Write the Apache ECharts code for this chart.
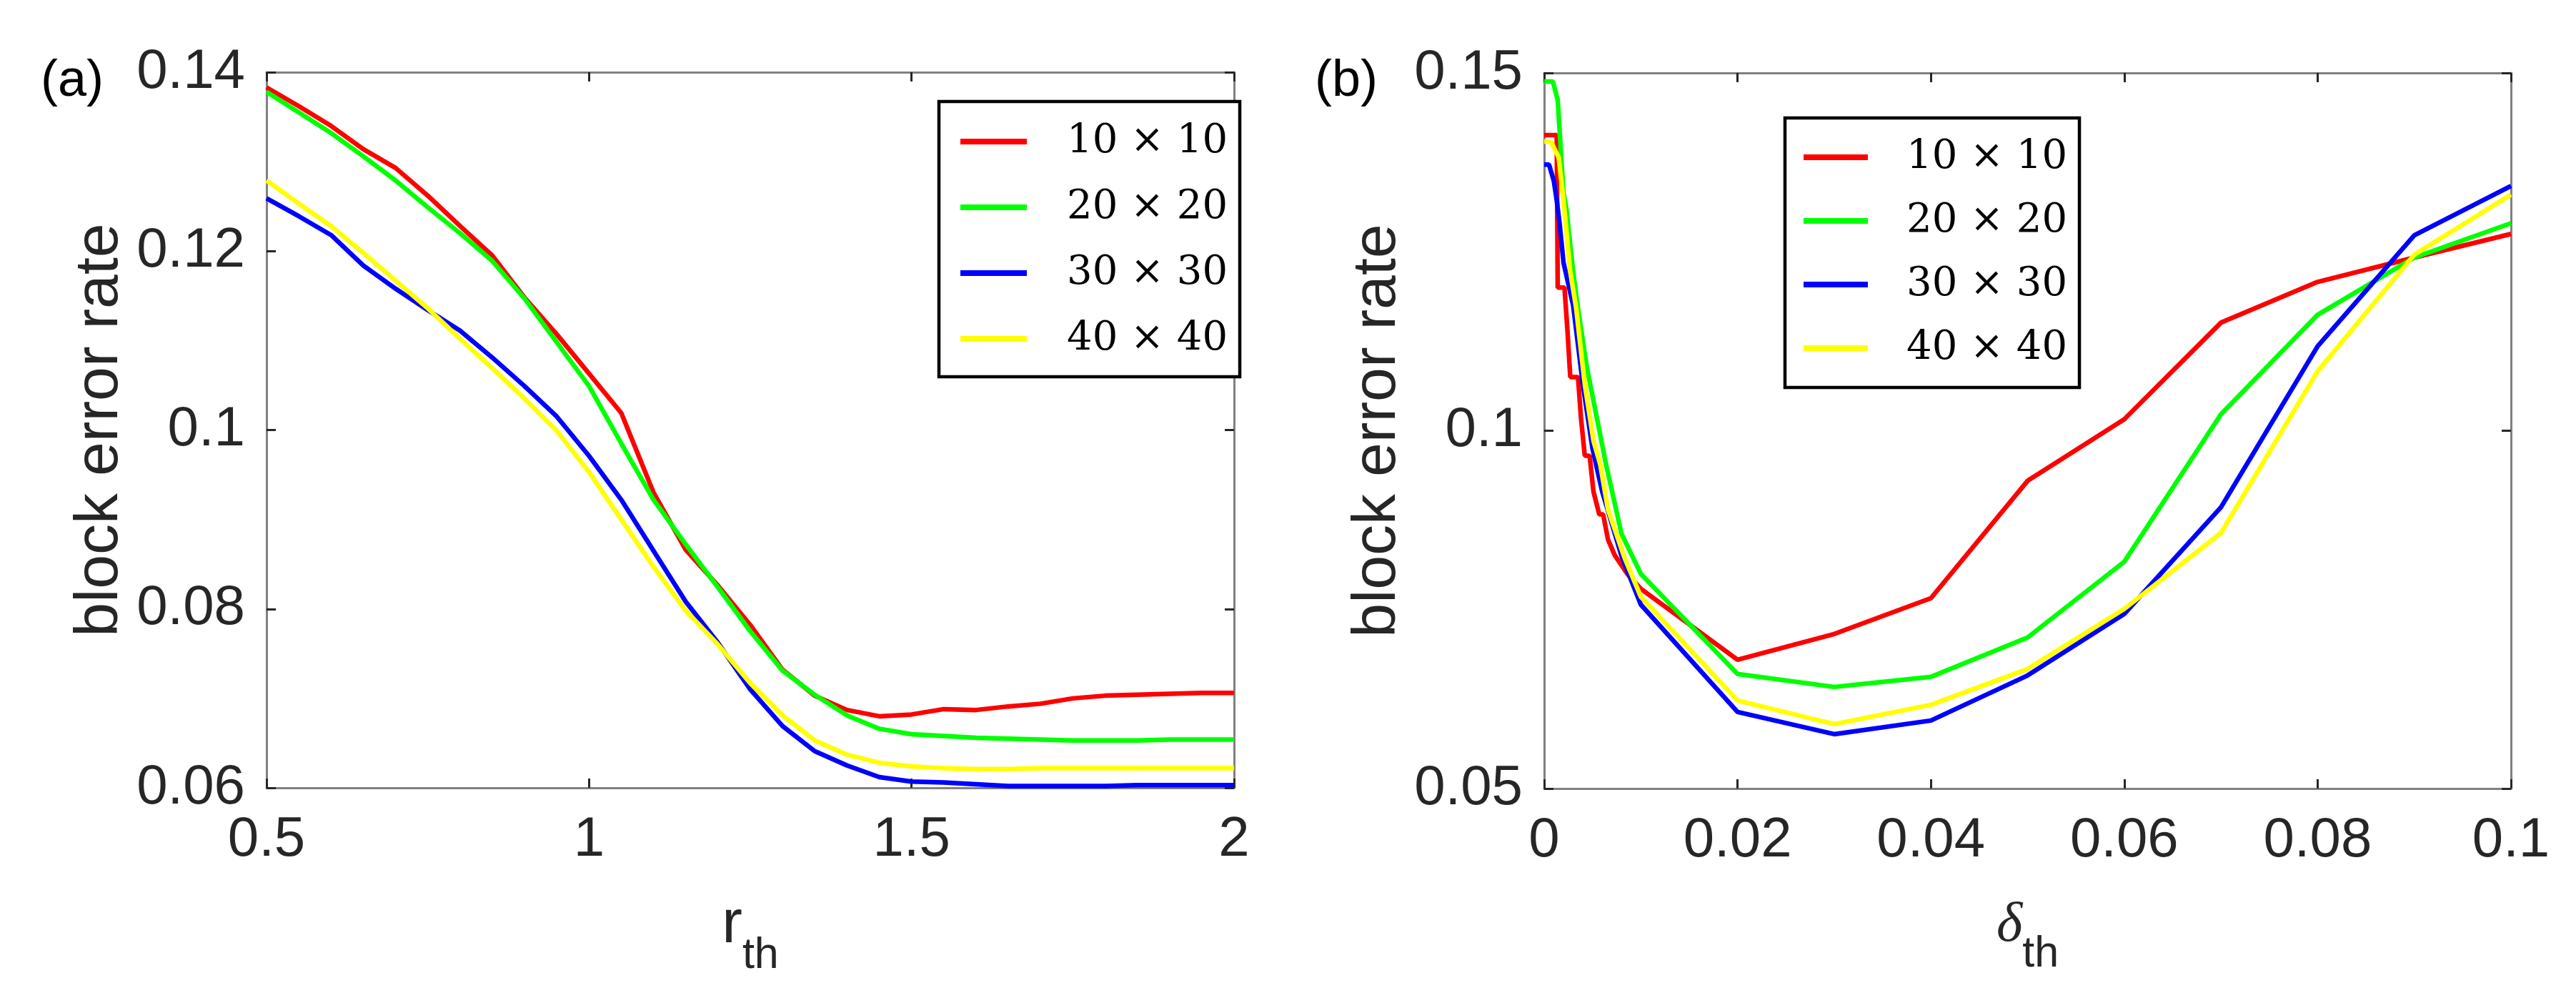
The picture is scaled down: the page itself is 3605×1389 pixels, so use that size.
<!DOCTYPE html>
<html>
<head>
<meta charset="utf-8">
<script src="https://cdn.jsdelivr.net/npm/echarts@6.0.0/dist/echarts.min.js"></script>
<style>
  html, body { margin: 0; padding: 0; background: #fff; }
  #chart { width: 3605px; height: 1389px; }
</style>
</head>
<body>
<div id="chart"></div>
<script>
// series names / colours
const sizes = ['10 × 10', '20 × 20', '30 × 30', '40 × 40'];
const colors = ['#ff0000', '#00ff00', '#0000ff', '#ffff00'];

// panel (a): block error rate vs r_th
const rTh = [0.5, 0.55, 0.6, 0.65, 0.7, 0.75, 0.8, 0.85, 0.9, 0.95, 1.0,
  1.05, 1.1, 1.15, 1.2, 1.25, 1.3, 1.35, 1.4, 1.45, 1.5,
  1.55, 1.6, 1.65, 1.7, 1.75, 1.8, 1.85, 1.9, 1.95, 2.0];
const redA = [0.1383, 0.1362, 0.1340, 0.1314, 0.1293, 0.1262, 0.1228, 0.1195, 0.1148, 0.1107, 0.1063,
  0.1019, 0.0930, 0.0866, 0.0826, 0.0782, 0.0732, 0.0703, 0.0687, 0.0680, 0.0682,
  0.0688, 0.0687, 0.0691, 0.0694, 0.0700, 0.0703, 0.0704, 0.0705, 0.0706, 0.0706];
const greenA = [0.1378, 0.1355, 0.1332, 0.1306, 0.1279, 0.1249, 0.1220, 0.1189, 0.1147, 0.1098, 0.1049,
  0.0985, 0.0922, 0.0872, 0.0824, 0.0775, 0.0731, 0.0704, 0.0681, 0.0666, 0.0660,
  0.0658, 0.0656, 0.0655, 0.0654, 0.0653, 0.0653, 0.0653, 0.0654, 0.0654, 0.0654];
const blueA = [0.1259, 0.1239, 0.1218, 0.1184, 0.1158, 0.1134, 0.1111, 0.1081, 0.1049, 0.1015, 0.0971,
  0.0922, 0.0865, 0.0808, 0.0762, 0.0710, 0.0669, 0.0641, 0.0625, 0.0612, 0.0607,
  0.0606, 0.0604, 0.0602, 0.0602, 0.0602, 0.0602, 0.0603, 0.0603, 0.0603, 0.0603];
const yellowA = [0.1279, 0.1253, 0.1228, 0.1198, 0.1167, 0.1136, 0.1102, 0.1069, 0.1035, 0.0999, 0.0953,
  0.0900, 0.0847, 0.0798, 0.0760, 0.0717, 0.0681, 0.0653, 0.0637, 0.0628, 0.0624,
  0.0622, 0.0621, 0.0621, 0.0622, 0.0622, 0.0622, 0.0622, 0.0622, 0.0622, 0.0622];

// panel (b): block error rate vs delta_th (dense points near 0)
const deltaRed = [0, 0.0013, 0.0014, 0.0021, 0.0024, 0.0027, 0.0035, 0.0038, 0.0042, 0.0047, 0.0051,
  0.0057, 0.0061, 0.0066, 0.0073, 0.0086, 0.01, 0.02, 0.03, 0.04, 0.05, 0.06, 0.07, 0.08, 0.09, 0.1];
const redB = [0.1413, 0.1413, 0.1200, 0.1200, 0.1142, 0.1075, 0.1075, 0.1019, 0.0965, 0.0965, 0.0915,
  0.0883, 0.0883, 0.0848, 0.0826, 0.0800, 0.0779, 0.0680, 0.0716, 0.0766, 0.0930, 0.1016, 0.1151, 0.1208, 0.1242, 0.1275];
const deltaGreen = [0, 0.0009, 0.0014, 0.002, 0.0023, 0.003, 0.0034, 0.0044, 0.0064, 0.008,
  0.01, 0.02, 0.03, 0.04, 0.05, 0.06, 0.07, 0.08, 0.09, 0.1];
const greenB = [0.1488, 0.1488, 0.1462, 0.1332, 0.1310, 0.1222, 0.1180, 0.1090, 0.0953, 0.0856,
  0.0800, 0.0660, 0.0642, 0.0656, 0.0711, 0.0817, 0.1023, 0.1162, 0.1242, 0.1290];
const deltaBlue = [0, 0.0005, 0.001, 0.0013, 0.0016, 0.002, 0.003, 0.004, 0.005, 0.006, 0.008,
  0.01, 0.02, 0.03, 0.04, 0.05, 0.06, 0.07, 0.08, 0.09, 0.1];
const blueB = [0.1372, 0.1372, 0.1349, 0.1322, 0.1289, 0.1235, 0.1175, 0.1065, 0.0975, 0.0915, 0.0825,
  0.0757, 0.0607, 0.0576, 0.0595, 0.0658, 0.0744, 0.0893, 0.1118, 0.1273, 0.1342];
const deltaYellow = [0, 0.0007, 0.0015, 0.002, 0.0027, 0.0033, 0.0042, 0.0051, 0.0058, 0.0066, 0.0083,
  0.01, 0.02, 0.03, 0.04, 0.05, 0.06, 0.07, 0.08, 0.09, 0.1];
const yellowB = [0.1404, 0.1404, 0.1382, 0.1322, 0.1222, 0.1172, 0.1065, 0.0986, 0.0953, 0.0890, 0.0823,
  0.0768, 0.0623, 0.0590, 0.0617, 0.0667, 0.0751, 0.0857, 0.1083, 0.1246, 0.1330];

const chart = echarts.init(document.getElementById('chart'));

const SANS = 'Liberation Sans';
const TXT = '#262626';

function pairs(xs, ys) {
  return xs.map((x, i) => [x, ys[i]]);
}

function fmt(v) {
  return String(parseFloat(v.toFixed(4)));
}

// one axis of the box; labelled or not
function axis(gridIndex, position, min, max, interval, labelled, extra) {
  return Object.assign({
    type: 'value',
    gridIndex: gridIndex,
    position: position,
    min: min,
    max: max,
    interval: interval,
    axisLine: {show: true, onZero: false, lineStyle: {color: '#808080', width: 3}},
    axisTick: {show: true, inside: true, length: 13, lineStyle: {color: TXT, width: 3}},
    splitLine: {show: false},
    axisLabel: {
      show: labelled,
      fontFamily: SANS,
      fontSize: 78,
      color: TXT,
      margin: position === 'bottom' ? 34 : 30,
      showMinLabel: true,
      showMaxLabel: true,
      formatter: fmt
    }
  }, extra || {});
}

const yName = {
  name: 'block error rate',
  nameLocation: 'middle',
  nameRotate: 90,
  nameGap: 190,
  nameTextStyle: {fontFamily: SANS, fontSize: 86, color: TXT}
};

const xNameA = {
  name: '{a|r}{s|th}',
  nameLocation: 'middle',
  nameGap: 119,
  nameTextStyle: {
    rich: {
      a: {fontFamily: SANS, fontSize: 86, color: TXT},
      s: {fontFamily: SANS, fontSize: 61, color: TXT, padding: [86, 0, 0, 0]}
    }
  }
};

const xNameB = {
  name: '{d|\u03b4}{s|th}',
  nameLocation: 'middle',
  nameGap: 122,
  nameTextStyle: {
    rich: {
      d: {fontFamily: 'Liberation Serif', fontStyle: 'italic', fontSize: 78, color: TXT},
      s: {fontFamily: SANS, fontSize: 61, color: TXT, padding: [80, 0, 0, 0]}
    }
  }
};

function legendAt(left, top, pad, iconW, textPad, gap) {
  return {
    orient: 'vertical',
    left: left,
    top: top,
    data: sizes,
    icon: 'rect',
    itemWidth: iconW,
    itemHeight: 8,
    itemGap: gap,
    padding: pad,
    backgroundColor: '#fff',
    borderColor: '#000',
    borderWidth: 4.5,
    borderRadius: 0,
    selectedMode: false,
    textStyle: {
      fontFamily: 'DejaVu Serif',
      fontSize: 56,
      lineHeight: 60,
      color: '#000',
      padding: [0, 0, 0, textPad]
    }
  };
}

const seriesA = [redA, greenA, blueA, yellowA];
const xsB = [deltaRed, deltaGreen, deltaBlue, deltaYellow];
const seriesB = [redB, greenB, blueB, yellowB];

const series = [];
sizes.forEach((name, i) => {
  series.push({
    name: name, type: 'line', xAxisIndex: 0, yAxisIndex: 0,
    data: pairs(rTh, seriesA[i]),
    showSymbol: false, symbol: 'none', animation: false,
    itemStyle: {color: colors[i]},
    lineStyle: {color: colors[i], width: 6.5}
  });
});
sizes.forEach((name, i) => {
  series.push({
    name: name, type: 'line', xAxisIndex: 2, yAxisIndex: 2,
    data: pairs(xsB[i], seriesB[i]),
    showSymbol: false, symbol: 'none', animation: false,
    itemStyle: {color: colors[i]},
    lineStyle: {color: colors[i], width: 6.5}
  });
});

chart.setOption({
  backgroundColor: '#fff',
  animation: false,
  title: [
    {text: '(a)', left: 57, top: 78, padding: 0,
      textStyle: {fontFamily: SANS, fontSize: 72, fontWeight: 'normal', color: '#000'}},
    {text: '(b)', left: 1840, top: 78, padding: 0,
      textStyle: {fontFamily: SANS, fontSize: 72, fontWeight: 'normal', color: '#000'}}
  ],
  grid: [
    {left: 373, top: 101, width: 1354, height: 1001, outerBoundsMode: 'none'},
    {left: 2161, top: 102, width: 1353, height: 1001, outerBoundsMode: 'none'}
  ],
  xAxis: [
    axis(0, 'bottom', 0.5, 2, 0.5, true, xNameA),
    axis(0, 'top', 0.5, 2, 0.5, false),
    axis(1, 'bottom', 0, 0.1, 0.02, true, xNameB),
    axis(1, 'top', 0, 0.1, 0.02, false)
  ],
  yAxis: [
    axis(0, 'left', 0.06, 0.14, 0.02, true, yName),
    axis(0, 'right', 0.06, 0.14, 0.02, false),
    axis(1, 'left', 0.05, 0.15, 0.05, true, yName),
    axis(1, 'right', 0.05, 0.15, 0.05, false)
  ],
  legend: [
    legendAt(1314, 142, [26, 17, 23, 30], 93, 51, 32),
    legendAt(2498, 165, [25, 17, 25, 26], 90, 49, 29)
  ],
  series: series
});
</script>
</body>
</html>
